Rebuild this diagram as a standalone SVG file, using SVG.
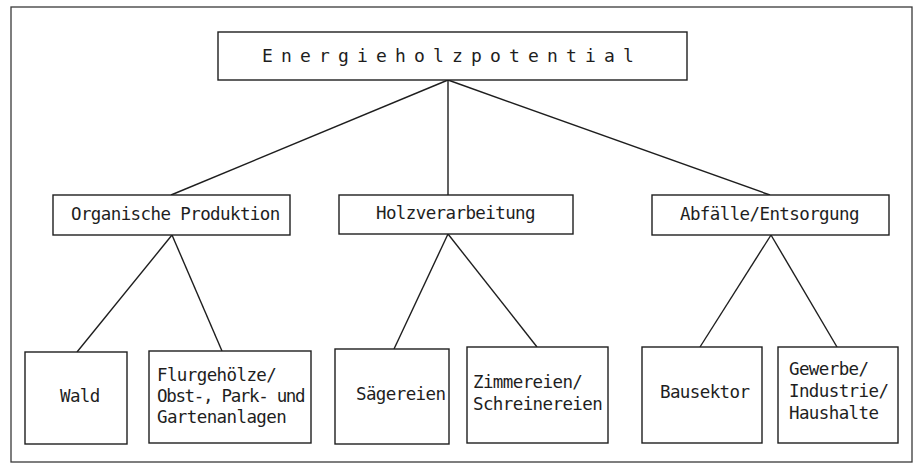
<svg xmlns="http://www.w3.org/2000/svg" width="917" height="468" viewBox="0 0 917 468">
<style>
.frame{fill:none;stroke:#3a3a3a;stroke-width:1.3}
.box{fill:#fff;stroke:#1e1e1e;stroke-width:1.4}
.t{font-family:"DejaVu Sans Mono","Liberation Mono",monospace;font-size:17.5px;fill:#1e1e1e;letter-spacing:-0.6px}
.title{font-family:"DejaVu Sans Mono","Liberation Mono",monospace;font-size:18px;fill:#1e1e1e;letter-spacing:8.16px}
.c{stroke:#1e1e1e;stroke-width:1.4;fill:none}
</style>
<rect width="917" height="468" fill="#fff"/>
<rect class="frame" x="11" y="7" width="901" height="455"/>
<g id="connectors">
<line class="c" x1="448" y1="80" x2="171" y2="195"/>
<line class="c" x1="448" y1="80" x2="448" y2="195"/>
<line class="c" x1="448" y1="80" x2="770" y2="195"/>
<line class="c" x1="172" y1="235" x2="77" y2="352"/>
<line class="c" x1="172" y1="235" x2="222" y2="351"/>
<line class="c" x1="448" y1="234" x2="394" y2="349"/>
<line class="c" x1="448" y1="234" x2="537" y2="347"/>
<line class="c" x1="771" y1="235" x2="700" y2="347"/>
<line class="c" x1="771" y1="235" x2="837" y2="347"/>
</g>
<g id="energieholzpotential">
<rect class="box" x="218" y="32" width="469" height="48"/>
<text class="title" x="262" y="62">Energieholzpotential</text>
</g>
<g id="organische-produktion">
<rect class="box" x="53" y="195" width="237" height="40"/>
<text class="t" x="71" y="220">Organische Produktion</text>
</g>
<g id="holzverarbeitung">
<rect class="box" x="339" y="195" width="234" height="39"/>
<text class="t" x="376" y="219">Holzverarbeitung</text>
</g>
<g id="abfaelle-entsorgung">
<rect class="box" x="652" y="195" width="237" height="40"/>
<text class="t" x="680" y="220">Abfälle/Entsorgung</text>
</g>
<g id="wald">
<rect class="box" x="25" y="352" width="102" height="92"/>
<text class="t" x="60" y="402">Wald</text>
</g>
<g id="flurgehoelze">
<rect class="box" x="149" y="351" width="162" height="92"/>
<text class="t" x="157" y="381">Flurgehölze/</text>
<text class="t" x="157" y="402" textLength="148" lengthAdjust="spacing">Obst-, Park- und</text>
<text class="t" x="157" y="423">Gartenanlagen</text>
</g>
<g id="saegereien">
<rect class="box" x="335" y="349" width="114" height="95"/>
<text class="t" x="356" y="400">Sägereien</text>
</g>
<g id="zimmereien">
<rect class="box" x="467" y="347" width="141" height="96"/>
<text class="t" x="473" y="388">Zimmereien/</text>
<text class="t" x="473" y="410">Schreinereien</text>
</g>
<g id="bausektor">
<rect class="box" x="642" y="347" width="120" height="96"/>
<text class="t" x="660" y="398">Bausektor</text>
</g>
<g id="gewerbe">
<rect class="box" x="778" y="347" width="120" height="96"/>
<text class="t" x="789" y="375">Gewerbe/</text>
<text class="t" x="789" y="397">Industrie/</text>
<text class="t" x="789" y="419">Haushalte</text>
</g>
</svg>
